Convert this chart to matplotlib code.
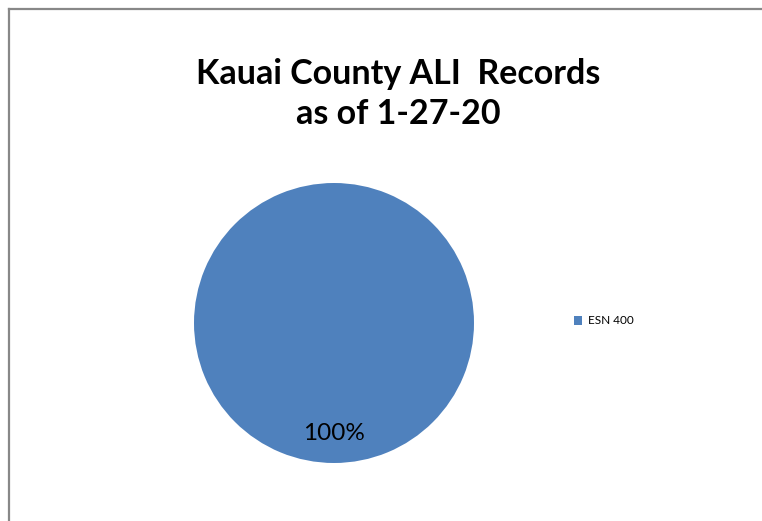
import matplotlib
matplotlib.use("Agg")
import matplotlib.pyplot as plt
from matplotlib.lines import Line2D

# Données du graphique
labels = ["ESN 400"]
values = [100]
colors = ["#4F81BD"]
title_lines = ["Kauai County ALI  Records", "as of 1-27-20"]

plt.rcParams['font.family'] = ['Lato', 'DejaVu Sans']

W, H = 762, 521
fig = plt.figure(figsize=(W / 100, H / 100), dpi=100)
fig.patch.set_facecolor("white")

# cadre gris (bords gauche et haut visibles)
fig.add_artist(Line2D([8.5 / W, 8.5 / W], [0, 1 - 8.5 / H], color="#888888", lw=1.6))
fig.add_artist(Line2D([8.5 / W, 1], [1 - 8.5 / H, 1 - 8.5 / H], color="#888888", lw=1.6))

# camembert centré sur (334, 323), rayon 140 px
cx, cy, r = 334, 323, 140
ax = fig.add_axes([(cx - r) / W, (H - cy - r) / H, 2 * r / W, 2 * r / H])
wedges, texts, autotexts = ax.pie(values, colors=colors, startangle=90,
                                  autopct="%1.0f%%", pctdistance=0.79,
                                  textprops={"fontsize": 17.5, "color": "black"})
ax.set_aspect("equal")
ax.set_xlim(-1, 1)
ax.set_ylim(-1, 1)

fig.text(398 / W, 1 - 74 / H, title_lines[0], ha="center", va="center",
         fontsize=24.5, fontweight="bold")
fig.text(398 / W, 1 - 114 / H, title_lines[1], ha="center", va="center",
         fontsize=24.5, fontweight="bold")

fig.legend(wedges, labels, loc="center left", bbox_to_anchor=(568 / W, 1 - 321 / H),
           frameon=False, fontsize=8.5, handlelength=0.7, handleheight=0.7,
           handletextpad=0.5, borderpad=0)

fig.savefig("out.png", dpi=100)
